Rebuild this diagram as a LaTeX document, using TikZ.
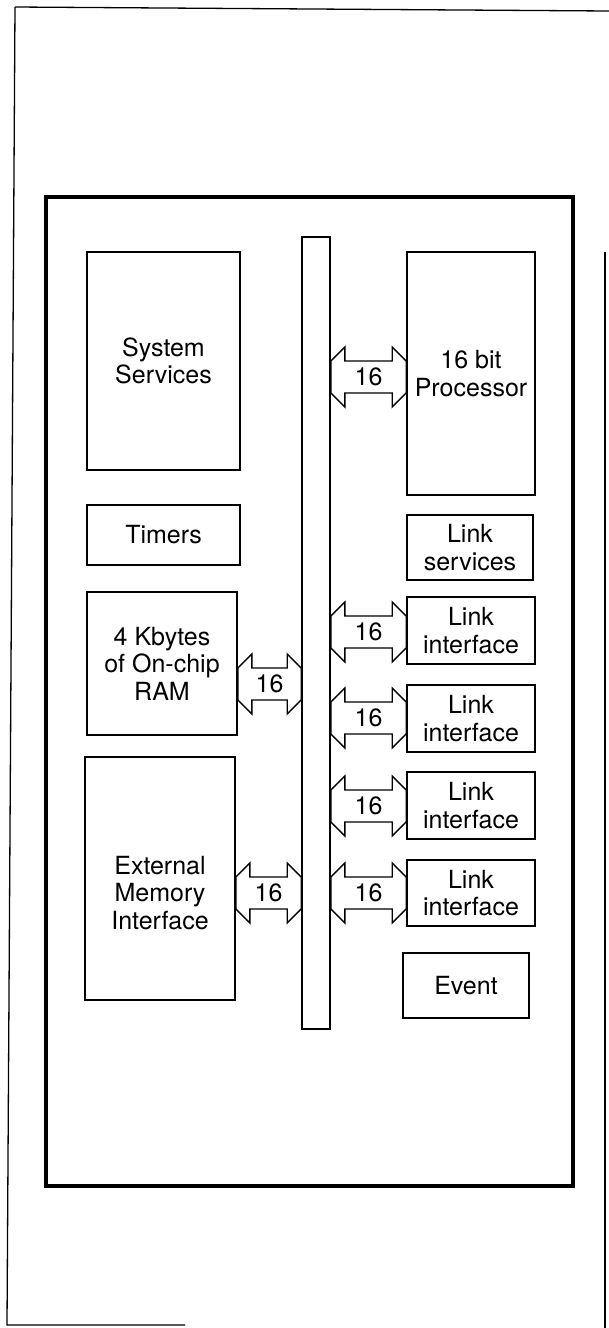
\documentclass[tikz,border=0pt]{standalone}
\usepackage{fontspec}
\setmainfont{TeX Gyre Heros}
\usetikzlibrary{calc}
\tikzset{
  blk/.style={draw, line width=1.6pt, align=center, inner sep=0pt,
    font=\fontsize{25}{27.5}\selectfont},
  txt/.style={align=center, inner sep=0pt, font=\fontsize{25}{27.5}\selectfont},
  lbl/.style={inner sep=0pt, font=\fontsize{25}{27.5}\selectfont},
  arrowline/.style={draw, line width=1.4pt, line join=miter},
  frame/.style={line width=1.3pt},
  thickframe/.style={line width=4.8pt, line join=miter}
}
\newcommand\busarrow[4]{%
  \draw[arrowline] let \p1=(#1), \p2=(#2) in
    (\x1,-#3pt+16pt) -- (\x1+14pt,-#3pt+30pt) -- (\x1+14pt,-#3pt+16pt)
    -- (\x2-14pt,-#3pt+16pt) -- (\x2-14pt,-#3pt+30pt) -- (\x2,-#3pt+16pt)
    -- (\x2,-#3pt-16pt) -- (\x2-14pt,-#3pt-30pt) -- (\x2-14pt,-#3pt-16pt)
    -- (\x1+14pt,-#3pt-16pt) -- (\x1+14pt,-#3pt-30pt) -- (\x1,-#3pt-16pt) -- cycle
    node[lbl] (#4) at ({(\x1+\x2)/2},-#3pt) {16};
}
\begin{document}
\begin{tikzpicture}[x=1pt,y=-1pt]
\useasboundingbox (0,0) rectangle (609,1328);
\fill[white] (0,0) rectangle (609,1328);
% outer thin frame
\draw[frame] (15,7) -- (609,11);
\draw[frame] (15,7) -- (7,1325) -- (185,1325);
\draw[frame] (605,252) -- (605,1328);
% thick chip outline
\draw[thickframe] (46,197) rectangle (573,1186);
% left column
\node[blk, minimum width=153pt, minimum height=218pt] (sys) at (163.5,361) {System\\Services};
\node[blk, minimum width=153pt, minimum height=60pt] (tim) at (163.5,535) {Timers};
\node[blk, minimum width=150pt, minimum height=143pt] (ram) at (162,663.5) {4 Kbytes\\of On-chip\\RAM};
\node[blk, minimum width=150pt, minimum height=243pt] (emi) at (160,878.5) {};
\node[txt] (emitext) at (160,893) {External\\Memory\\Interface};
% bus
\node[blk, minimum width=28pt, minimum height=792pt] (bus) at (316,633) {};
% right column
\node[blk, minimum width=128pt, minimum height=243pt] (proc) at (471,373.5) {16 bit\\Processor};
\node[blk, minimum width=126pt, minimum height=65pt] (lsvc) at (470,547.5) {Link\\services};
\node[blk, minimum width=128pt, minimum height=67pt] (li1) at (471,630.5) {Link\\interface};
\node[blk, minimum width=128pt, minimum height=67pt] (li2) at (471,718.5) {Link\\interface};
\node[blk, minimum width=128pt, minimum height=67pt] (li3) at (471,805.5) {Link\\interface};
\node[blk, minimum width=128pt, minimum height=66pt] (li4) at (471,893) {Link\\interface};
\node[blk, minimum width=126pt, minimum height=65pt] (ev) at (466,985.5) {Event};
% bus arrows
\busarrow{bus.east}{proc.west}{377}{aproc}
\busarrow{ram.east}{bus.west}{684}{aram}
\busarrow{emi.east}{bus.west}{893}{aemi}
\busarrow{bus.east}{li1.west}{632}{ali1}
\busarrow{bus.east}{li2.west}{718}{ali2}
\busarrow{bus.east}{li3.west}{806}{ali3}
\busarrow{bus.east}{li4.west}{893}{ali4}
\end{tikzpicture}
\end{document}
